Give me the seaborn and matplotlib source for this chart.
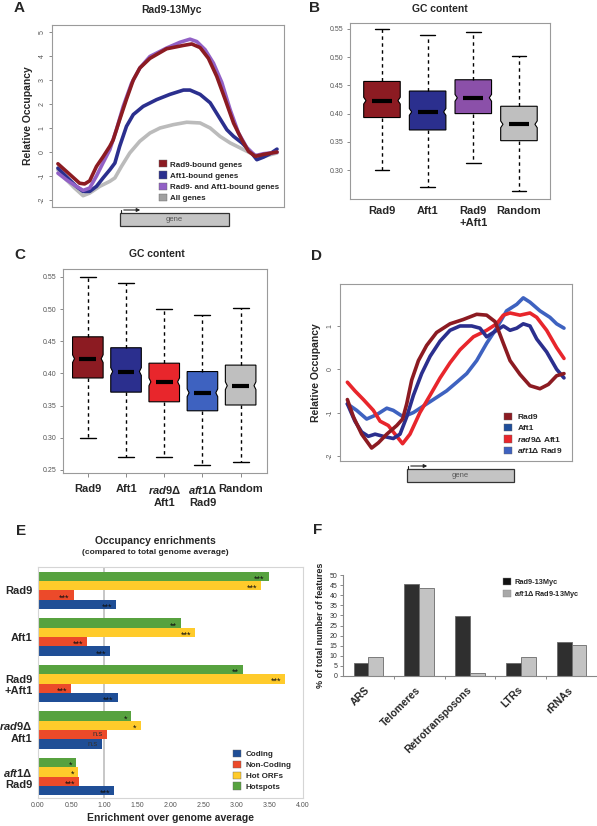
import numpy as np
import pandas as pd
import matplotlib
matplotlib.use("Agg")
import matplotlib.pyplot as plt
import seaborn as sns
from matplotlib.patches import Patch, Rectangle, FancyArrowPatch
from matplotlib.lines import Line2D
from matplotlib.path import Path

# ---------------- data ----------------
# A: Rad9-13Myc occupancy profiles (x = % along the profile)
A_RAD9_X = [0, 9.9, 12.2, 14.5, 17.6, 20.6, 23.7, 25.2, 28.2, 31.3, 34.4, 37.4, 42.0, 49.6, 57.3, 61.1,
            64.9, 68.7, 72.5, 76.3, 80.2, 84.0, 87.0, 90.1, 93.9, 100]
A_RAD9_Y = [-0.49, -1.3, -1.33, -1.2, -0.6, -0.2, 0.24, 0.5, 1.35, 2.2, 3.0, 3.5, 3.9, 4.3, 4.44, 4.5,
            4.35, 3.9, 3.15, 2.2, 1.2, 0.5, 0.03, -0.18, -0.1, 0.0]
A_BOTH_X = [0, 3.8, 8.4, 11.5, 14.5, 17.6, 20.6, 23.7, 26.7, 29.8, 33.6, 37.4, 42.0, 49.6, 55.7, 60.3,
            63.4, 67.2, 71.0, 74.8, 78.6, 82.4, 86.3, 90.1, 93.9, 100]
A_BOTH_Y = [-0.88, -1.15, -1.43, -1.6, -1.5, -1.0, -0.45, 0.1, 0.93, 1.9, 2.86, 3.5, 3.98, 4.33, 4.57, 4.7,
            4.6, 4.26, 3.7, 2.9, 1.77, 0.8, 0.17, -0.15, -0.07, -0.01]
A_AFT1_X = [0, 3.8, 8.4, 11.5, 14.5, 17.6, 20.6, 23.7, 26.0, 28.2, 31.3, 34.4, 38.9, 45.0, 51.1, 57.3,
            60.3, 64.9, 69.5, 73.3, 77.1, 80.2, 84.0, 87.8, 90.8, 93.9, 96.9, 100]
A_AFT1_Y = [-0.67, -1.02, -1.43, -1.64, -1.64, -1.43, -1.08, -0.74, -0.46, 0.24, 1.07, 1.56, 1.9, 2.18, 2.4, 2.58,
            2.58, 2.4, 2.05, 1.49, 0.93, 0.65, 0.38, 0.03, -0.32, -0.21, -0.07, 0.12]
A_ALL_X = [0, 3.8, 7.6, 11.5, 14.5, 19.1, 23.7, 26.0, 29.0, 32.8, 37.4, 42.0, 46.6, 52.7, 58.8, 64.9,
           69.5, 74.0, 78.6, 83.2, 87.8, 91.6, 95.4, 100]
A_ALL_Y = [-0.74, -1.15, -1.5, -1.82, -1.71, -1.43, -1.22, -1.08, -0.6, -0.04, 0.45, 0.79, 1.0, 1.14, 1.24, 1.21,
           1.0, 0.65, 0.38, 0.17, -0.04, -0.18, -0.15, -0.04]
A_LABELS = ["Rad9-bound genes", "Aft1-bound genes", "Rad9- and Aft1-bound genes", "All genes"]

# B: GC content boxes
B_LABELS = ["Rad9", "Aft1", "Rad9\n+Aft1", "Random"]
B_LO = [0.300, 0.270, 0.312, 0.262]
B_Q1 = [0.393, 0.371, 0.400, 0.352]
B_MED = [0.423, 0.403, 0.428, 0.381]
B_Q3 = [0.457, 0.440, 0.460, 0.413]
B_HI = [0.550, 0.540, 0.545, 0.502]

# C: GC content boxes incl. deletions
C_LABELS = ["Rad9", "Aft1", "$\\mathit{rad9}$Δ\nAft1", "$\\mathit{aft1}$Δ\nRad9", "Random"]
C_LO = [0.300, 0.270, 0.270, 0.257, 0.262]
C_Q1 = [0.393, 0.371, 0.356, 0.342, 0.351]
C_MED = [0.423, 0.403, 0.387, 0.370, 0.381]
C_Q3 = [0.457, 0.440, 0.416, 0.403, 0.413]
C_HI = [0.550, 0.541, 0.500, 0.491, 0.502]

# D: occupancy profiles incl. deletions
D_RAD9_X = [0, 2.8, 6.6, 11.2, 14.3, 18.2, 22.8, 25.5, 27.4, 29.7, 32.8, 36.6, 41.2, 47.4, 53.5, 59.7,
            64.3, 68.2, 72.0, 75.1, 79.7, 84.3, 88.9, 92.8, 96.6, 100]
D_RAD9_Y = [-0.7, -1.1, -1.5, -1.82, -1.7, -1.5, -1.3, -1.15, -0.8, -0.25, 0.2, 0.55, 0.85, 1.05, 1.15, 1.27,
            1.25, 1.1, 0.6, 0.2, -0.12, -0.38, -0.45, -0.35, -0.15, -0.1]
D_AFT1_X = [0, 3.5, 6.6, 9.7, 12.8, 16.6, 21.2, 24.3, 27.4, 30.5, 34.3, 38.2, 42.8, 47.4, 52.0, 57.4,
            61.2, 64.3, 67.4, 72.0, 75.1, 78.2, 81.2, 84.3, 87.4, 92.0, 96.6, 100]
D_AFT1_Y = [-0.8, -1.2, -1.45, -1.55, -1.5, -1.55, -1.6, -1.5, -1.1, -0.6, -0.1, 0.3, 0.65, 0.9, 1.0, 1.0,
            0.95, 0.75, 0.85, 1.0, 0.9, 0.95, 1.05, 1.0, 0.7, 0.4, 0.0, -0.2]
D_RAD9D_X = [0, 3.5, 7.4, 12.0, 15.1, 18.9, 22.0, 25.5, 28.9, 33.5, 38.2, 42.8, 47.4, 52.0, 58.2, 64.3,
             68.9, 72.0, 75.1, 79.7, 84.3, 87.4, 92.0, 96.6, 100]
D_RAD9D_Y = [-0.3, -0.5, -0.7, -0.95, -1.2, -1.3, -1.5, -1.72, -1.5, -1.0, -0.6, -0.2, 0.15, 0.45, 0.75, 0.9,
             1.05, 1.25, 1.3, 1.25, 1.3, 1.2, 0.9, 0.5, 0.25]
D_AFT1D_X = [0, 4.3, 8.9, 13.5, 18.2, 21.2, 25.8, 30.5, 35.1, 39.7, 45.8, 50.5, 55.1, 59.7, 64.3, 68.9,
             73.5, 78.2, 81.2, 84.3, 88.9, 93.5, 96.6, 100]
D_AFT1D_Y = [-0.8, -0.95, -1.15, -1.05, -0.9, -0.95, -1.1, -1.0, -0.85, -0.7, -0.5, -0.3, -0.1, 0.2, 0.6, 0.95,
             1.35, 1.5, 1.65, 1.55, 1.35, 1.2, 1.05, 0.95]
D_LABELS = ["Rad9", "Aft1", "$\\mathit{rad9}$Δ Aft1", "$\\mathit{aft1}$Δ Rad9"]

# E: occupancy enrichments
E_GROUPS = ["Rad9", "Aft1", "Rad9\n+Aft1", "$\\mathit{rad9}$Δ\nAft1", "$\\mathit{aft1}$Δ\nRad9"]
E_CATS = ["Coding", "Non-Coding", "Hot ORFs", "Hotspots"]
E_CODING = [1.18, 1.09, 1.20, 0.97, 1.15]
E_NONCODING = [0.54, 0.74, 0.50, 1.04, 0.62]
E_HOTORFS = [3.37, 2.37, 3.73, 1.55, 0.61]
E_HOTSPOTS = [3.48, 2.16, 3.10, 1.41, 0.58]
E_STARS_CODING = ["***", "***", "***", "n.s", "***"]
E_STARS_NONCODING = ["***", "***", "***", "n.s", "***"]
E_STARS_HOTORFS = ["***", "***", "***", "*", "*"]
E_STARS_HOTSPOTS = ["***", "**", "**", "*", "*"]
E_XTICKS = [0, 0.5, 1, 1.5, 2, 2.5, 3, 3.5, 4]

# F: features bound
F_FEATURES = ["ARS", "Telomeres", "Retrotransposons", "LTRs", "rRNAs"]
F_STRAINS = ["Rad9-13Myc", "$\\mathit{aft1}$Δ Rad9-13Myc"]
F_RAD9 = [6.2, 45.4, 29.8, 6.6, 16.9]
F_AFT1D = [9.5, 43.8, 1.3, 9.2, 15.1]

# ---------------- style ----------------
W, H = 597, 826
sns.set_theme(style="white")
plt.rcParams["font.family"] = ["Liberation Sans", "DejaVu Sans"]
plt.rcParams["mathtext.fontset"] = "custom"
plt.rcParams["mathtext.it"] = "Liberation Sans:italic:bold"
plt.rcParams["mathtext.rm"] = "Liberation Sans:bold"
plt.rcParams["mathtext.bf"] = "Liberation Sans:bold"
plt.rcParams["axes.unicode_minus"] = False

DARK_RED = "#8C1B22"
NAVY = "#2B2F8E"
PURPLE = "#9261C6"
LGRAY = "#BBBBBB"
RED = "#E8262C"
BLUE = "#3E62C0"
FRAME = "#9A9A9A"


def rect(l, t, r, b):
    return [l / W, 1 - b / H, (r - l) / W, (b - t) / H]


def fpt(x, y):
    return (x / W, 1 - y / H)


def frame(ax, color=FRAME, lw=0.8):
    for s in ax.spines.values():
        s.set_color(color)
        s.set_linewidth(lw)


def gene_box(fig, l, t, r, b):
    x0, y0 = fpt(l, b)
    x1, y1 = fpt(r, t)
    fig.add_artist(Rectangle((x0, y0), x1 - x0, y1 - y0, transform=fig.transFigure,
                             facecolor="#C4C4C4", edgecolor="#333333", lw=0.9))
    fig.text((x0 + x1) / 2, (y0 + y1) / 2, "gene", ha="center", va="center", fontsize=5.5, color="#555555")
    fig.add_artist(Line2D([x0 + 1 / W, x0 + 1 / W], [y1, y1 + 3 / H], transform=fig.transFigure,
                          color="#222222", lw=0.8))
    fig.add_artist(FancyArrowPatch(fpt(l + 1, t - 3), fpt(l + 23, t - 3), transform=fig.transFigure,
                                   arrowstyle="-|>", mutation_scale=5, lw=0.8, color="#222222"))


def gc_boxes(ax, lo, q1, med, q3, hi, colors, capw):
    stats = [dict(whislo=lo[i], q1=q1[i], med=med[i], q3=q3[i], whishi=hi[i],
                  cilo=med[i] - 0.006, cihi=med[i] + 0.006, fliers=[]) for i in range(len(med))]
    parts = ax.bxp(stats, positions=range(len(med)), widths=0.8, capwidths=capw, shownotches=True,
                   patch_artist=True, showfliers=False, manage_ticks=False,
                   boxprops=dict(edgecolor="black", linewidth=0.8),
                   whiskerprops=dict(linestyle=(0, (2.5, 2.5)), linewidth=1.0, color="black"),
                   capprops=dict(linewidth=1.0, color="black"),
                   medianprops=dict(color="black", linewidth=3, solid_capstyle="butt"))
    # shallower notch than matplotlib's default
    for i, (patch, c) in enumerate(zip(parts["boxes"], colors)):
        patch.set_facecolor(c)
        p = patch.get_path()
        v = p.vertices.copy()
        at_med = np.abs(v[:, 1] - med[i]) < 1e-9
        v[at_med, 0] = i + np.sign(v[at_med, 0] - i) * 0.35
        patch.set_path(Path(v, p.codes))
    for i, m in enumerate(parts["medians"]):
        m.set_xdata([i - 0.22, i + 0.22])


fig = plt.figure(figsize=(W / 100, H / 100), dpi=100)

# ---------------- A ----------------
axA = fig.add_axes(rect(52, 25, 284, 207))
for xs, ys, c in [(A_ALL_X, A_ALL_Y, LGRAY), (A_AFT1_X, A_AFT1_Y, NAVY),
                  (A_BOTH_X, A_BOTH_Y, PURPLE), (A_RAD9_X, A_RAD9_Y, DARK_RED)]:
    sns.lineplot(x=xs, y=ys, color=c, linewidth=2.6, estimator=None, ax=axA)
axA.set_xlim(-2.7, 103.2)
axA.set_ylim(-2.29, 5.29)
axA.set_xticks([])
axA.set_yticks(range(-2, 6))
axA.set_yticklabels([str(v) for v in range(-2, 6)], rotation=90, va="center")
axA.tick_params(axis="y", labelsize=5, labelcolor="#555555", length=2.5, width=0.6, color="#777777",
                left=True, pad=2)
axA.set_ylabel("Relative Occupancy", fontsize=7.5, fontweight="bold", labelpad=4)
frame(axA)
axA.legend([Patch(facecolor=c, edgecolor="#666666", lw=0.3) for c in [DARK_RED, NAVY, PURPLE, "#A0A0A0"]],
           A_LABELS, loc="lower right", bbox_to_anchor=(1.0, 0.0), frameon=False,
           prop=dict(weight="bold", size=5.8), handlelength=1.0, handleheight=1.0, handletextpad=0.4,
           labelspacing=0.35, borderaxespad=0.2)
gene_box(fig, 120, 213, 229, 226)
fig.text(*fpt(172, 10), "Rad9-13Myc", ha="center", va="center", fontsize=7.5, fontweight="bold")

# ---------------- B ----------------
axB = fig.add_axes(rect(350, 23, 550, 199))
gc_boxes(axB, B_LO, B_Q1, B_MED, B_Q3, B_HI, [DARK_RED, NAVY, "#8B50A9", "#BFBFBF"], 0.32)
axB.set_xlim(-0.70, 3.68)
axB.set_ylim(0.2486, 0.5606)
axB.set_xticks(range(len(B_LABELS)))
axB.set_xticklabels(B_LABELS, fontsize=8, fontweight="bold")
axB.tick_params(axis="x", length=0, pad=5)
axB.set_yticks([0.30, 0.35, 0.40, 0.45, 0.50, 0.55])
axB.set_yticklabels(["0.30", "0.35", "0.40", "0.45", "0.50", "0.55"])
axB.tick_params(axis="y", labelsize=5, labelcolor="#555555", length=2.5, width=0.6, color="#777777",
                left=True, pad=2)
frame(axB)
fig.text(*fpt(440, 9), "GC content", ha="center", va="center", fontsize=7.5, fontweight="bold")

# ---------------- C ----------------
axC = fig.add_axes(rect(63, 269, 267, 473))
gc_boxes(axC, C_LO, C_Q1, C_MED, C_Q3, C_HI, [DARK_RED, NAVY, RED, BLUE, "#BFBFBF"], 0.42)
axC.set_xlim(-0.65, 4.69)
axC.set_ylim(0.2453, 0.5624)
axC.set_xticks(range(len(C_LABELS)))
axC.set_xticklabels(C_LABELS, fontsize=8, fontweight="bold")
axC.tick_params(axis="x", length=3, width=0.6, color="#777777", bottom=True, pad=5)
axC.set_yticks([0.25, 0.30, 0.35, 0.40, 0.45, 0.50, 0.55])
axC.set_yticklabels(["0.25", "0.30", "0.35", "0.40", "0.45", "0.50", "0.55"])
axC.tick_params(axis="y", labelsize=5, labelcolor="#555555", length=2.5, width=0.6, color="#777777",
                left=True, pad=2)
frame(axC)
fig.text(*fpt(157, 254), "GC content", ha="center", va="center", fontsize=7.5, fontweight="bold")

# ---------------- D ----------------
axD = fig.add_axes(rect(340, 284, 572, 461))
for xs, ys, c in [(D_AFT1D_X, D_AFT1D_Y, BLUE), (D_RAD9D_X, D_RAD9D_Y, RED),
                  (D_AFT1_X, D_AFT1_Y, NAVY), (D_RAD9_X, D_RAD9_Y, DARK_RED)]:
    sns.lineplot(x=xs, y=ys, color=c, linewidth=2.6, estimator=None, ax=axD)
axD.set_xlim(-3.4, 103.7)
axD.set_ylim(-2.12, 1.97)
axD.set_xticks([])
axD.set_yticks([-2, -1, 0, 1])
axD.set_yticklabels(["-2", "-1", "0", "1"], rotation=90, va="center")
axD.tick_params(axis="y", labelsize=5, labelcolor="#555555", length=2.5, width=0.6, color="#777777",
                left=True, pad=2)
axD.set_ylabel("Relative Occupancy", fontsize=7.5, fontweight="bold", labelpad=4)
frame(axD)
axD.legend([Patch(facecolor=c, edgecolor="#666666", lw=0.3) for c in [DARK_RED, "#1F4E9A", RED, BLUE]],
           D_LABELS, loc="lower right", bbox_to_anchor=(0.985, 0.0), frameon=False,
           prop=dict(weight="bold", size=6), handlelength=1.0, handleheight=1.0, handletextpad=0.6,
           labelspacing=0.3, borderaxespad=0.3)
gene_box(fig, 407, 469, 514, 482)

# ---------------- E ----------------
axE = fig.add_axes(rect(38, 567, 303, 798))
E_COLORS = {"Coding": "#1F4E96", "Non-Coding": "#EC4A2A", "Hot ORFs": "#FFCB2B", "Hotspots": "#57A23F"}
e_rows = []
for cat, vals in zip(E_CATS, [E_CODING, E_NONCODING, E_HOTORFS, E_HOTSPOTS]):
    for g, v in zip(E_GROUPS, vals):
        e_rows.append((g, cat, v))
df_e = pd.DataFrame(e_rows, columns=["group", "cat", "value"])
top_down = ["Hotspots", "Hot ORFs", "Non-Coding", "Coding"]
axE.axvline(1.0, color="#BDBDBD", lw=1.2, zorder=0)
sns.barplot(data=df_e, x="value", y="group", hue="cat", order=E_GROUPS, hue_order=top_down,
            palette=E_COLORS, orient="h", width=0.8, saturation=1, errorbar=None, legend=False,
            linewidth=0, ax=axE)
stars = {"Coding": E_STARS_CODING, "Non-Coding": E_STARS_NONCODING,
         "Hot ORFs": E_STARS_HOTORFS, "Hotspots": E_STARS_HOTSPOTS}
for cat, cont in zip(top_down, axE.containers):
    for bar in cont:
        gi = int(round(bar.get_y() + bar.get_height() / 2))
        lab = stars[cat][gi]
        axE.annotate(lab, (bar.get_width(), bar.get_y() + bar.get_height() / 2),
                     xytext=(-3, -2 if lab != "n.s" else 0), textcoords="offset points",
                     ha="right", va="center", fontsize=6.5 if lab != "n.s" else 5.5,
                     color="#111111" if lab != "n.s" else "#333333")
axE.set_xlim(0, 4)
axE.set_ylim(4.46, -0.505)
axE.set_xticks(E_XTICKS)
axE.set_xticklabels(["%.2f" % v for v in E_XTICKS])
axE.tick_params(axis="x", labelsize=5, labelcolor="#555555", length=0, pad=3)
axE.set_yticks(range(len(E_GROUPS)))
axE.set_yticklabels(E_GROUPS, fontsize=8, fontweight="bold")
axE.tick_params(axis="y", length=0, pad=4)
axE.set_xlabel("Enrichment over genome average", fontsize=7.5, fontweight="bold", labelpad=3)
axE.set_ylabel("")
frame(axE, color="#D5D5D5", lw=0.8)
axE.legend([Patch(facecolor=E_COLORS[c], edgecolor="#666666", lw=0.3) for c in E_CATS], E_CATS,
           loc="lower right", bbox_to_anchor=(0.985, 0.0), frameon=False,
           prop=dict(weight="bold", size=5.8), handlelength=1.0, handleheight=1.0, handletextpad=0.6,
           labelspacing=0.3, borderaxespad=0.5)
fig.text(*fpt(155, 541), "Occupancy enrichments", ha="center", va="center", fontsize=7.5, fontweight="bold")
fig.text(*fpt(155, 552), "(compared to total genome average)", ha="center", va="center", fontsize=6,
         fontweight="bold")

# ---------------- F ----------------
axF = fig.add_axes(rect(343, 575, 597, 676))
df_f = pd.DataFrame({"feature": F_FEATURES * 2,
                     "strain": [F_STRAINS[0]] * len(F_FEATURES) + [F_STRAINS[1]] * len(F_FEATURES),
                     "pct": F_RAD9 + F_AFT1D})
sns.barplot(data=df_f, x="feature", y="pct", hue="strain", hue_order=F_STRAINS,
            palette=["#2F2F2F", "#C3C3C3"], width=0.58, saturation=1, errorbar=None, legend=False,
            edgecolor="#6A6A6A", linewidth=0.6, ax=axF)
axF.set_xlim(-0.5, 4.5)
axF.set_ylim(0, 50)
axF.set_yticks(range(0, 51, 5))
axF.tick_params(axis="y", labelsize=5, labelcolor="#333333", length=2.5, width=0.6, color="#777777",
                left=True, pad=1.5)
axF.set_xticks(range(len(F_FEATURES)))
axF.set_xticklabels(F_FEATURES, rotation=45, ha="right", va="center", rotation_mode="anchor",
                    fontsize=7.5, fontweight="bold")
axF.set_xticks([0.5, 1.5, 2.5, 3.5], minor=True)
axF.tick_params(axis="x", which="major", length=0, pad=9)
axF.tick_params(axis="x", which="minor", length=2.5, width=0.6, color="#777777", bottom=True)
axF.set_xlabel("")
axF.set_ylabel("% of total number of features", fontsize=6.5, fontweight="bold", labelpad=3)
sns.despine(ax=axF)
for s in ["left", "bottom"]:
    axF.spines[s].set_color("#888888")
    axF.spines[s].set_linewidth(0.8)
axF.legend([Patch(facecolor=c, edgecolor="#888888", lw=0.3) for c in ["#111111", "#A8A8A8"]], F_STRAINS,
           loc="upper left", bbox_to_anchor=(0.62, 1.0), frameon=False,
           prop=dict(weight="bold", size=5.3), handlelength=1.0, handleheight=1.0, handletextpad=0.5,
           labelspacing=0.45, borderaxespad=0.0)

# panel letters
for letter, (px, py) in zip("ABCDEF", [(19, 8), (315, 8), (20, 255), (317, 256), (21, 531), (318, 530)]):
    fig.text(*fpt(px, py), letter, ha="center", va="center", fontsize=11, fontweight="bold")

fig.savefig("out.png", dpi=100)
